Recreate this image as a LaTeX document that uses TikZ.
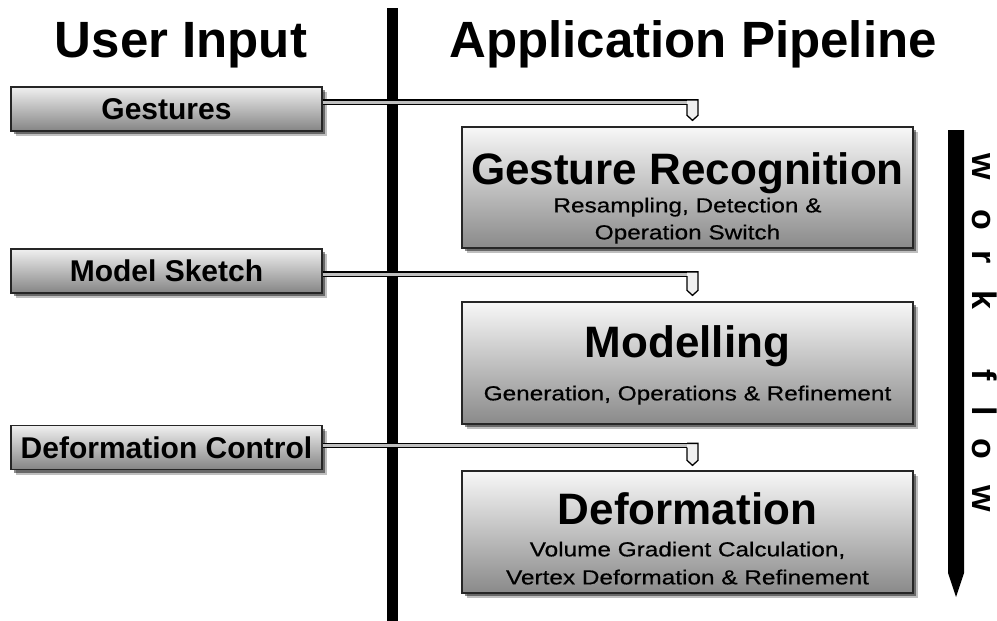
\documentclass[tikz,border=0pt]{standalone}
\usepackage{fontspec}
\setmainfont{Liberation Sans}
\newfontfamily\subfont[FakeStretch=1.2,FakeBold=0.6]{Liberation Sans}
\usetikzlibrary{shadows,calc}
\begin{document}
\begin{tikzpicture}[x=1pt,y=-1pt,
  shadowed/.style={drop shadow={shadow xshift=5pt,shadow yshift=-5pt,opacity=0.25,fill=black},
                   drop shadow={shadow xshift=3pt,shadow yshift=-3pt,opacity=0.45,fill=black}},
  inbox/.style={shadowed,draw=black!85,line width=1.3pt,top color=black!6,bottom color=black!48,
    minimum width=311pt,minimum height=44pt,inner sep=0pt,font=\fontsize{30}{30}\selectfont\bfseries},
  stagebox/.style={shadowed,draw=black!85,line width=1.3pt,top color=black!3,bottom color=black!46,
    minimum width=451pt,inner sep=0pt},
  heading/.style={anchor=base,inner sep=0pt,font=\fontsize{51}{51}\selectfont\bfseries},
  title/.style={anchor=base,inner sep=0pt,font=\fontsize{44}{44}\selectfont\bfseries},
  subtitle/.style={anchor=base,inner sep=0pt,font=\subfont\fontsize{20.3}{22}\selectfont},
  pipe/.style={draw=black,line width=1.3pt,double=black!25,double distance=3pt,line cap=butt},
  nib/.style={draw=black,line width=1.3pt,fill=black!6,line join=miter},
  flowtext/.style={anchor=base west,inner sep=0pt,rotate=-90,font=\fontsize{34}{34}\selectfont\bfseries}
]
\useasboundingbox (0,0) rectangle (997,621);
\fill[white] (0,0) rectangle (997,621);

% headings and divider
\node[heading] (hu) at (181,57) {User Input};
\node[heading] (ha) at (693,57) {Application Pipeline};
\fill[black] (387,8) rectangle (398,621);

% user input boxes
\node[inbox] (gest) at (166.5,109) {Gestures};
\node[inbox] (ms) at (166.5,271) {Model Sketch};
\node[inbox] (dc) at (166.5,447.5) {Deformation Control};

% stage boxes
\node[stagebox,minimum height=121pt] (gr) at (687.5,187.5) {};
\node[stagebox,minimum height=122pt] (mod) at (687.5,363) {};
\node[stagebox,minimum height=122pt] (def) at (687.5,532) {};

\node[title] (grt) at ($(gr.north)+(0,58)$) {Gesture Recognition};
\node[subtitle] (grs1) at ($(gr.north)+(0,86)$) {Resampling, Detection \&};
\node[subtitle] (grs2) at ($(gr.north)+(0,113)$) {Operation Switch};

\node[title] (modt) at ($(mod.north)+(0,56)$) {Modelling};
\node[subtitle] (mods) at ($(mod.north)+(0,99)$) {Generation, Operations \& Refinement};

\node[title] (deft) at ($(def.north)+(0,54)$) {Deformation};
\node[subtitle] (defs1) at ($(def.north)+(0,86)$) {Volume Gradient Calculation,};
\node[subtitle] (defs2) at ($(def.north)+(0,114)$) {Vertex Deformation \& Refinement};

% connectors
\coordinate (p1) at ($(gest.east)+(0,-7)$);
\coordinate (t1) at ($(gr.north)+(5,-6)$);
\coordinate (c1) at (p1 -| t1);
\draw[pipe] (p1) -- (c1);
\filldraw[nib] ($(c1)+(-5.5,2.15)$) -- ($(t1)+(-5.5,-5)$) -- (t1) -- ($(t1)+(5.5,-5)$) -- ($(c1)+(5.5,-2.15)$) -- ($(c1)+(-5.5,-2.15)$);

\coordinate (p2) at ($(ms.east)+(0,3)$);
\coordinate (t2) at ($(mod.north)+(5,-6)$);
\coordinate (c2) at (p2 -| t2);
\draw[pipe] (p2) -- (c2);
\filldraw[nib] ($(c2)+(-5.5,2.15)$) -- ($(t2)+(-5.5,-5)$) -- (t2) -- ($(t2)+(5.5,-5)$) -- ($(c2)+(5.5,-2.15)$) -- ($(c2)+(-5.5,-2.15)$);

\coordinate (p3) at ($(dc.east)+(0,-2)$);
\coordinate (t3) at ($(def.north)+(5,-5)$);
\coordinate (c3) at (p3 -| t3);
\draw[pipe] (p3) -- (c3);
\filldraw[nib] ($(c3)+(-5.5,2.15)$) -- ($(t3)+(-5.5,-5)$) -- (t3) -- ($(t3)+(5.5,-5)$) -- ($(c3)+(5.5,-2.15)$) -- ($(c3)+(-5.5,-2.15)$);

% work flow arrow
\fill[black] (948,130) -- (964,130) -- (964,573) -- (956,597) -- (948,573) -- cycle;
\node[flowtext] (wf) at (972,153) {w\hspace{30pt}o\hspace{20pt}r\hspace{27pt}k\hspace{60pt}f\hspace{26pt}l\hspace{22pt}o\hspace{26pt}w};
\end{tikzpicture}
\end{document}
